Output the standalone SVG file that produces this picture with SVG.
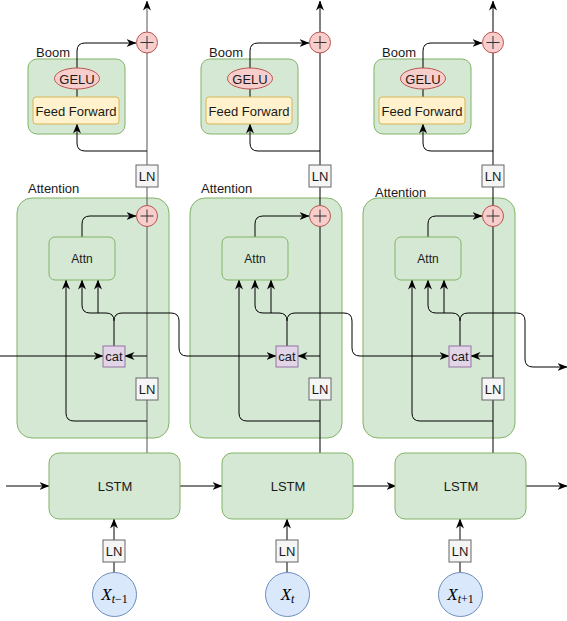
<svg xmlns="http://www.w3.org/2000/svg" width="567" height="621" viewBox="0 0 567 621">
<style>
.t{font-family:"Liberation Sans",Arial,sans-serif;fill:#1a1a1a}
.c{text-anchor:middle;dominant-baseline:central}
.grn{fill:#d5e8d4;stroke:#82b366;stroke-width:1}
.ff{fill:#fff2cc;stroke:#d6b656}
.gelu{fill:#f8cecc;stroke:#b85450}
.ln{fill:#f5f5f5;stroke:#666666}
.cat{fill:#e1d5e7;stroke:#9673a6}
.x{fill:#dae8fc;stroke:#6c8ebf}
.w{fill:none;stroke:#000;stroke-width:1}
.a{marker-end:url(#arr)}
.ps{stroke:#333;stroke-width:1}
.m{font-family:"Liberation Serif","Times New Roman",serif;font-style:italic;fill:#000}
</style>
<defs>
<marker id="arr" viewBox="0 0 10 8" refX="9.5" refY="4" markerWidth="10" markerHeight="8" markerUnits="userSpaceOnUse" orient="auto">
<path d="M0,0 L10,4 L0,8 L3,4 Z" fill="#000"/>
</marker>
<g id="plusSym"><circle r="10.5" class="gelu"/><path d="M-6.5,0 H6.5 M0,-6.5 V6.5" class="ps"/></g>
</defs>
<rect width="567" height="621" fill="#fff"/>

<!-- containers -->
<g id="containers">
<g id="boom1"><rect x="28" y="59" width="97" height="75" rx="9" class="grn"/><text x="36" y="52" class="t" font-size="13" dominant-baseline="central">Boom</text></g>
<g id="boom2"><rect x="201" y="59" width="97" height="75" rx="9" class="grn"/><text x="209" y="52" class="t" font-size="13" dominant-baseline="central">Boom</text></g>
<g id="boom3"><rect x="374" y="59" width="97" height="75" rx="9" class="grn"/><text x="382" y="52" class="t" font-size="13" dominant-baseline="central">Boom</text></g>
<g id="attention1"><rect x="17" y="198" width="152" height="240" rx="15" class="grn"/><text x="28" y="188" class="t" font-size="13" dominant-baseline="central">Attention</text></g>
<g id="attention2"><rect x="190" y="198" width="152" height="240" rx="15" class="grn"/><text x="201" y="188" class="t" font-size="13" dominant-baseline="central">Attention</text></g>
<g id="attention3"><rect x="363" y="198" width="152" height="240" rx="15" class="grn"/><text x="375" y="192" class="t" font-size="13" dominant-baseline="central">Attention</text></g>
</g>

<g id="connectors" class="w">
<!-- column 1 -->
<path class="a" d="M147,453 V1" stroke="#555"/>
<path class="a" d="M77,68 V51 Q77,43 85,43 H136"/>
<path d="M77,89 V97"/>
<path class="a" d="M147,151 H85 Q77,151 77,143 V124"/>
<path class="a" d="M82,237 V224 Q82,216 90,216 H136"/>
<path class="a" d="M147,421 H74 Q66,421 66,413 V280"/>
<path class="a" d="M114,346 V321 Q114,313 106,313 H90 Q82,313 82,305 V280"/>
<path class="a" d="M98,313 V280"/>
<path class="a" d="M114,321 Q114,313 122,313 H171 Q179,313 179,321 V348 Q179,356 187,356 H276"/>
<path class="a" d="M147,356 H125"/>
<path class="a" d="M0,356 H103"/>
<path class="a" d="M6,486 H49"/>
<path class="a" d="M180,486 H222"/>
<path class="a" d="M114,540 V519"/>
<path d="M114,562 V573"/>
<!-- column 2 -->
<path class="a" d="M320,453 V1"/>
<path class="a" d="M250,68 V51 Q250,43 258,43 H309"/>
<path d="M250,89 V97"/>
<path class="a" d="M320,151 H258 Q250,151 250,143 V124"/>
<path class="a" d="M255,237 V224 Q255,216 263,216 H309"/>
<path class="a" d="M320,421 H247 Q239,421 239,413 V280"/>
<path class="a" d="M287,346 V321 Q287,313 279,313 H263 Q255,313 255,305 V280"/>
<path class="a" d="M271,313 V280"/>
<path class="a" d="M287,321 Q287,313 295,313 H344 Q352,313 352,321 V348 Q352,356 360,356 H449"/>
<path class="a" d="M320,356 H298"/>
<path class="a" d="M353,486 H396"/>
<path class="a" d="M287,540 V519"/>
<path d="M287,562 V573"/>
<!-- column 3 -->
<path class="a" d="M493,453 V1"/>
<path class="a" d="M423,68 V51 Q423,43 431,43 H482"/>
<path d="M423,89 V97"/>
<path class="a" d="M493,151 H431 Q423,151 423,143 V124"/>
<path class="a" d="M428,237 V224 Q428,216 436,216 H482"/>
<path class="a" d="M493,421 H420 Q412,421 412,413 V280"/>
<path class="a" d="M460,346 V321 Q460,313 452,313 H436 Q428,313 428,305 V280"/>
<path class="a" d="M444,313 V280"/>
<path class="a" d="M460,321 Q460,313 468,313 H517 Q525,313 525,321 V359 Q525,367 533,367 H567"/>
<path class="a" d="M493,356 H471"/>
<path class="a" d="M526,486 H567"/>
<path class="a" d="M460,540 V519"/>
<path d="M460,562 V573"/>
</g>

<!-- column 1 nodes -->
<g id="plusTop1"><use href="#plusSym" x="147" y="42.5"/></g>
<g id="gelu1"><ellipse cx="77" cy="78.5" rx="22.5" ry="10.5" class="gelu"/><text x="77" y="79" class="t c" font-size="13">GELU</text></g>
<g id="ff1"><rect x="33" y="97" width="86" height="27" rx="3" class="ff"/><text x="76" y="111" class="t c" font-size="13">Feed Forward</text></g>
<g id="lnTop1"><rect x="136" y="165" width="22" height="22" class="ln"/><text x="147" y="176.5" class="t c" font-size="13">LN</text></g>
<g id="plusAttn1"><use href="#plusSym" x="147" y="216"/></g>
<g id="attn1"><rect x="49" y="237" width="66" height="43" rx="6" class="grn"/><text x="82" y="259" class="t c" font-size="12">Attn</text></g>
<g id="cat1"><rect x="103" y="346" width="22" height="21" class="cat"/><text x="114" y="356.5" class="t c" font-size="13">cat</text></g>
<g id="lnMid1"><rect x="136" y="378" width="22" height="22" class="ln"/><text x="147" y="389.5" class="t c" font-size="13">LN</text></g>
<g id="lstm1"><rect x="49" y="453" width="131" height="66" rx="10" class="grn"/><text x="115" y="486" class="t c" font-size="13">LSTM</text></g>
<g id="lnBot1"><rect x="103" y="540" width="22" height="22" class="ln"/><text x="114" y="551.5" class="t c" font-size="13">LN</text></g>
<g id="x1"><circle cx="114.5" cy="594.5" r="22" class="x"/><text x="114.5" y="600" class="m" text-anchor="middle" font-size="17">X<tspan font-size="12" dy="3">t</tspan><tspan font-size="12" font-style="normal">−1</tspan></text></g>

<!-- column 2 nodes -->
<g id="plusTop2"><use href="#plusSym" x="320" y="42.5"/></g>
<g id="gelu2"><ellipse cx="250" cy="78.5" rx="22.5" ry="10.5" class="gelu"/><text x="250" y="79" class="t c" font-size="13">GELU</text></g>
<g id="ff2"><rect x="206" y="97" width="86" height="27" rx="3" class="ff"/><text x="249" y="111" class="t c" font-size="13">Feed Forward</text></g>
<g id="lnTop2"><rect x="309" y="165" width="22" height="22" class="ln"/><text x="320" y="176.5" class="t c" font-size="13">LN</text></g>
<g id="plusAttn2"><use href="#plusSym" x="320" y="216"/></g>
<g id="attn2"><rect x="222" y="237" width="66" height="43" rx="6" class="grn"/><text x="255" y="259" class="t c" font-size="12">Attn</text></g>
<g id="cat2"><rect x="276" y="346" width="22" height="21" class="cat"/><text x="287" y="356.5" class="t c" font-size="13">cat</text></g>
<g id="lnMid2"><rect x="309" y="378" width="22" height="22" class="ln"/><text x="320" y="389.5" class="t c" font-size="13">LN</text></g>
<g id="lstm2"><rect x="222" y="453" width="131" height="66" rx="10" class="grn"/><text x="288" y="486" class="t c" font-size="13">LSTM</text></g>
<g id="lnBot2"><rect x="276" y="540" width="22" height="22" class="ln"/><text x="287" y="551.5" class="t c" font-size="13">LN</text></g>
<g id="x2"><circle cx="287.5" cy="594.5" r="22" class="x"/><text x="287.5" y="600" class="m" text-anchor="middle" font-size="17">X<tspan font-size="12" dy="3">t</tspan></text></g>

<!-- column 3 nodes -->
<g id="plusTop3"><use href="#plusSym" x="493" y="42.5"/></g>
<g id="gelu3"><ellipse cx="423" cy="78.5" rx="22.5" ry="10.5" class="gelu"/><text x="423" y="79" class="t c" font-size="13">GELU</text></g>
<g id="ff3"><rect x="379" y="97" width="86" height="27" rx="3" class="ff"/><text x="422" y="111" class="t c" font-size="13">Feed Forward</text></g>
<g id="lnTop3"><rect x="482" y="165" width="22" height="22" class="ln"/><text x="493" y="176.5" class="t c" font-size="13">LN</text></g>
<g id="plusAttn3"><use href="#plusSym" x="493" y="216"/></g>
<g id="attn3"><rect x="395" y="237" width="66" height="43" rx="6" class="grn"/><text x="428" y="259" class="t c" font-size="12">Attn</text></g>
<g id="cat3"><rect x="449" y="346" width="22" height="21" class="cat"/><text x="460" y="356.5" class="t c" font-size="13">cat</text></g>
<g id="lnMid3"><rect x="482" y="378" width="22" height="22" class="ln"/><text x="493" y="389.5" class="t c" font-size="13">LN</text></g>
<g id="lstm3"><rect x="395" y="453" width="131" height="66" rx="10" class="grn"/><text x="461" y="486" class="t c" font-size="13">LSTM</text></g>
<g id="lnBot3"><rect x="449" y="540" width="22" height="22" class="ln"/><text x="460" y="551.5" class="t c" font-size="13">LN</text></g>
<g id="x3"><circle cx="460.5" cy="594.5" r="22" class="x"/><text x="460.5" y="600" class="m" text-anchor="middle" font-size="17">X<tspan font-size="12" dy="3">t</tspan><tspan font-size="12" font-style="normal">+1</tspan></text></g>
</svg>
